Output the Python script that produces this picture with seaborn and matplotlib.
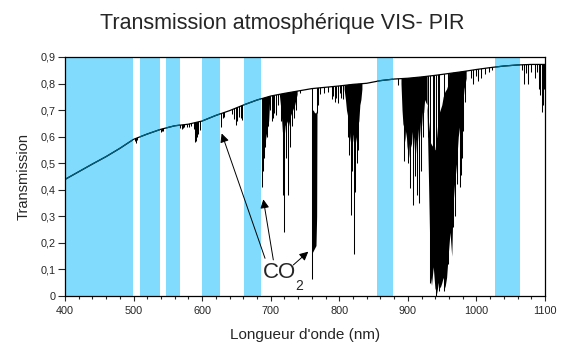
import numpy as np
import matplotlib
matplotlib.use("Agg")
import matplotlib.pyplot as plt
import matplotlib.ticker as mticker
import seaborn as sns

# Continuum (upper envelope) of the transmission spectrum
env_nm = [400, 420, 440, 460, 480, 500, 520, 540, 560, 580, 600, 620, 640, 660, 680,
          700, 720, 740, 760, 780, 800, 820, 840, 860, 880, 900, 920, 940, 960, 980,
          1000, 1020, 1040, 1060, 1080, 1100]
env_T = [0.439, 0.468, 0.497, 0.525, 0.556, 0.590, 0.610, 0.628, 0.641, 0.647, 0.659,
         0.680, 0.698, 0.719, 0.738, 0.753, 0.763, 0.772, 0.781, 0.786, 0.791, 0.797,
         0.801, 0.811, 0.817, 0.820, 0.825, 0.831, 0.838, 0.845, 0.853, 0.860, 0.866,
         0.870, 0.872, 0.872]

# Single absorption lines: wavelength and bottom of the line
line_nm = [502.5, 504, 505.5, 539.5, 541, 543, 568, 570, 572, 574, 578, 581, 584,
           587.5, 589.5, 591, 592.5, 594.5, 597, 627.5, 630, 632.5,
           644, 646.5, 649, 651, 653.5, 656, 658,
           687.5, 689, 690.5, 692, 694, 696, 699.5, 701.5, 703.5, 705.5, 707.5, 710,
           715.5, 718.4, 719.8, 722.5, 725.7, 728, 731, 734, 737, 743,
           759.7, 767.5, 769, 772, 777, 783,
           789.5, 791.5, 793.5, 795.5, 797.5, 800.5, 803, 806,
           812, 814.5, 816.6, 819, 821, 823.4, 826, 828, 886,
           895, 900, 903, 908, 911, 914, 916, 919, 922,
           930, 933, 936, 938, 941, 944, 945, 953, 958, 966.5, 968.5, 971,
           976, 977, 979, 980.5, 984,
           992, 995, 999, 1003, 1007, 1012, 1018, 1022,
           1066, 1069, 1072, 1075.7, 1080, 1085, 1088, 1091, 1093, 1095, 1097, 1099]
line_min = [0.585, 0.576, 0.588, 0.618, 0.620, 0.622, 0.632, 0.629, 0.634, 0.637, 0.638, 0.636, 0.640,
            0.630, 0.579, 0.585, 0.598, 0.610, 0.625, 0.637, 0.672, 0.675,
            0.685, 0.665, 0.645, 0.660, 0.675, 0.670, 0.663,
            0.41, 0.47, 0.52, 0.56, 0.60, 0.64, 0.70, 0.66, 0.67, 0.69, 0.68, 0.72,
            0.66, 0.38, 0.24, 0.52, 0.38, 0.56, 0.64, 0.67, 0.70, 0.765,
            0.065, 0.69, 0.72, 0.76, 0.765, 0.77,
            0.74, 0.755, 0.73, 0.745, 0.725, 0.765, 0.745, 0.74,
            0.60, 0.53, 0.305, 0.47, 0.16, 0.39, 0.50, 0.55, 0.795,
            0.51, 0.50, 0.405, 0.343, 0.45, 0.38, 0.35, 0.47, 0.60,
            0.60, 0.05, 0.50, 0.50, 0.0, 0.60, 0.02, 0.02, 0.12, 0.26, 0.30, 0.42,
            0.41, 0.455, 0.52, 0.62, 0.73,
            0.82, 0.80, 0.83, 0.81, 0.82, 0.835, 0.845, 0.85,
            0.85, 0.80, 0.84, 0.80, 0.845, 0.82, 0.845, 0.78, 0.757, 0.694, 0.72, 0.78]

# Dense absorption bands (lower / upper edge of the black mass)
o2b_nm = [686.5, 687.5, 689, 691, 693, 695, 697, 698.5]
o2b_low = [0.74, 0.50, 0.52, 0.56, 0.60, 0.63, 0.66, 0.74]

h2o_720_nm = [712.5, 715, 717, 719, 721, 723, 726, 729, 732, 735, 738.5]
h2o_720_low = [0.76, 0.70, 0.62, 0.58, 0.64, 0.66, 0.64, 0.68, 0.70, 0.72, 0.76]

o2a_nm = [759.5, 760, 762, 764, 766, 767, 767.5]
o2a_low = [0.70, 0.16, 0.17, 0.18, 0.19, 0.30, 0.70]
o2a_high = [0.70, 0.70, 0.70, 0.69, 0.69, 0.70, 0.70]

h2o_820_nm = [807, 809, 810.5, 812, 813, 814.5, 815.5, 817, 818, 819.5, 820.5, 822, 823,
              824.5, 825.5, 827, 828.5, 830, 831.5, 833]
h2o_820_low = [0.78, 0.74, 0.70, 0.68, 0.62, 0.64, 0.58, 0.62, 0.57, 0.61, 0.58, 0.62, 0.56,
               0.60, 0.57, 0.64, 0.66, 0.72, 0.74, 0.78]

h2o_900_nm = [890, 891.5, 893, 894.5, 896, 897.5, 899, 900.5, 902, 903.5, 905, 906.5, 908,
              909.5, 911, 912.5, 914, 915.5, 917, 918.5, 920, 921.5, 923, 924.5, 926, 928]
h2o_900_low = [0.80, 0.70, 0.64, 0.66, 0.58, 0.62, 0.55, 0.60, 0.52, 0.58, 0.56, 0.62, 0.54,
               0.60, 0.53, 0.59, 0.58, 0.63, 0.60, 0.66, 0.64, 0.70, 0.69, 0.74, 0.73, 0.72]

h2o_940_nm = [928, 930, 931.5, 932.5, 934.5, 937, 939.5, 942, 944.5, 947, 949.5, 951.5, 954,
              956.5, 959, 961.5, 964, 966, 968, 971, 973.5, 976, 979, 982, 985]
h2o_940_low = [0.70, 0.45, 0.25, 0.08, 0.04, 0.11, 0.03, 0.01, 0.05, 0.03, 0.05, 0.07, 0.03,
               0.07, 0.16, 0.24, 0.15, 0.35, 0.42, 0.50, 0.60, 0.65, 0.70, 0.78, 0.82]
h2o_940_high = [0.72, 0.66, 0.62, 0.58, 0.57, 0.56, 0.55, 0.60, 0.68, 0.70, 0.72, 0.75, 0.77,
                0.78, 0.80, 1, 1, 1, 1, 1, 1, 1, 1, 1, 1]

# Atmospheric windows (blue bands)
band_start = [400, 509.5, 547, 599.5, 661, 854.5, 1026.5]
band_end = [498.5, 538.5, 567.5, 626, 685.5, 879, 1063]

band_color = "#80dbfd"
line_teal = "#00607f"

sns.set_style("ticks")
plt.rcParams['font.family'] = ['Liberation Sans', 'DejaVu Sans']

fig = plt.figure(figsize=(5.64, 3.54), dpi=100)
ax = fig.add_axes([65 / 564, 1 - 296 / 354, 480 / 564, 239 / 354])

# blue bands
spans = [ax.axvspan(b0, b1, color=band_color, lw=0, zorder=1)
         for b0, b1 in zip(band_start, band_end)]

# invisible area under the continuum, used to clip the absorption marks
env_area = ax.fill_between(env_nm, 0, env_T, facecolor="none", edgecolor="none")
env_path = env_area.get_paths()[0]

lines = ax.vlines(line_nm, line_min, 1.0, colors="black", lw=0.75, zorder=2)
lines.set_clip_path(env_path, ax.transData)

dense = [
    (o2b_nm, o2b_low, [1.0] * len(o2b_nm)),
    (h2o_720_nm, h2o_720_low, [1.0] * len(h2o_720_nm)),
    (o2a_nm, o2a_low, o2a_high),
    (h2o_820_nm, h2o_820_low, [1.0] * len(h2o_820_nm)),
    (h2o_900_nm, h2o_900_low, [1.0] * len(h2o_900_nm)),
    (h2o_940_nm, h2o_940_low, h2o_940_high),
]
for nm, lo, hi in dense:
    f = ax.fill_between(nm, lo, hi, color="black", lw=0, zorder=2)
    f.set_clip_path(env_path, ax.transData)

# continuum line: black, dark teal where it crosses the blue bands
sns.lineplot(x=env_nm, y=env_T, ax=ax, color="black", lw=0.9, zorder=3)
for sp in spans:
    sns.lineplot(x=env_nm, y=env_T, ax=ax, color=line_teal, lw=0.9, zorder=4)
    ax.lines[-1].set_clip_path(sp)

ax.set_xlim(400, 1100)
ax.set_ylim(0, 0.9)
ax.set_xticks(range(400, 1101, 100))
ax.xaxis.set_minor_locator(mticker.MultipleLocator(20))
ax.set_yticks(np.arange(0, 0.91, 0.1))


def comma(v, pos):
    if abs(v) < 1e-9:
        return "0"
    return f"{v:.1f}".replace(".", ",")


ax.yaxis.set_major_formatter(mticker.FuncFormatter(comma))
ax.tick_params(axis="x", which="major", direction="out", length=3.5, width=0.8,
               labelsize=7.8, pad=4)
ax.tick_params(axis="x", which="minor", direction="out", length=2.5, width=0.8)
ax.tick_params(axis="y", which="major", direction="out", length=5, width=0.8,
               labelsize=7.8, pad=1.5)
for s in ax.spines.values():
    s.set_linewidth(0.9)
    s.set_color("black")
    s.set_zorder(5)

ax.set_xlabel("Longueur d'onde (nm)", fontsize=11)
ax.set_ylabel("Transmission", fontsize=10.5)
ax.xaxis.set_label_coords(0.5, -0.135)
ax.yaxis.set_label_coords(-0.072, 0.5)

fig.text(0.5, 1 - 28.5 / 354, "Transmission atmosphérique VIS- PIR",
         ha="center", va="baseline", fontsize=15.5)

# CO2 annotation
ax.text(688.7, 0.068, "CO", fontsize=16, va="baseline", ha="left", zorder=6)
ax.text(735.4, 0.0226, "2", fontsize=10, va="baseline", ha="left", zorder=6)
arrow = dict(arrowstyle="-|>", lw=0.7, color="black", mutation_scale=13,
             shrinkA=0, shrinkB=0)
ax.annotate("", xy=(628.5, 0.612), xytext=(691.7, 0.142), arrowprops=arrow, zorder=6)
ax.annotate("", xy=(689.2, 0.364), xytext=(703.8, 0.136), arrowprops=arrow, zorder=6)
ax.annotate("", xy=(754.8, 0.167), xytext=(733.0, 0.117), arrowprops=arrow, zorder=6)

fig.savefig("out.png", dpi=100, facecolor="white")
